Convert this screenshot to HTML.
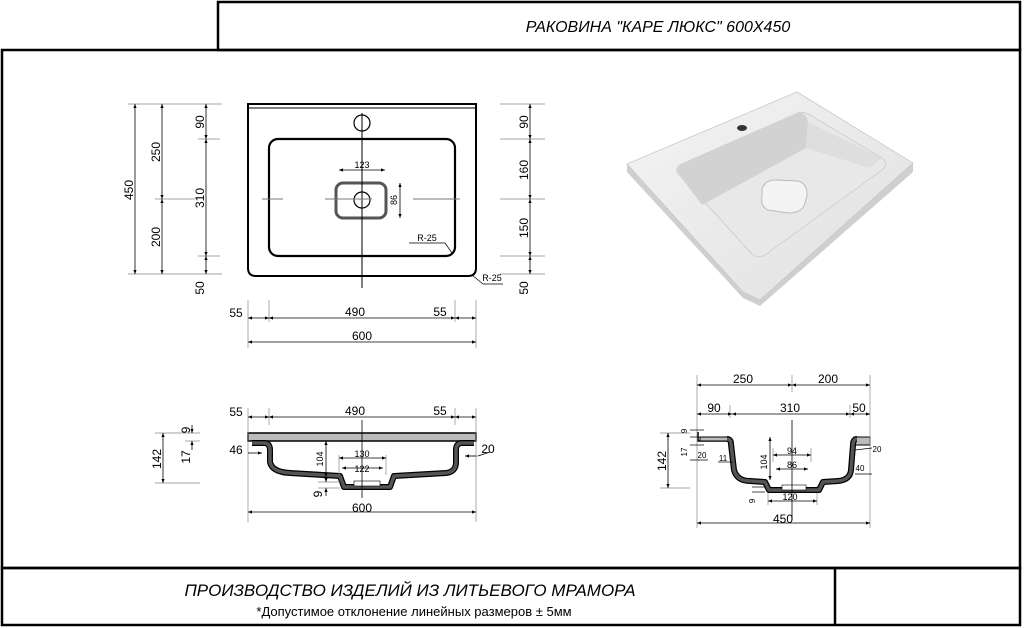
<!DOCTYPE html>
<html><head><meta charset="utf-8"><style>
html,body{margin:0;padding:0;background:#fff;}
svg{display:block;font-family:"Liberation Sans",Arial,sans-serif;}
</style></head><body>
<svg width="1024" height="628" viewBox="0 0 1024 628" xmlns="http://www.w3.org/2000/svg">
<defs>
<marker id="a" viewBox="0 0 10 10" refX="10" refY="5" markerWidth="7" markerHeight="5" orient="auto-start-reverse"><path d="M0,1 L10,5 L0,9z" fill="#000"/></marker>
<linearGradient id="g1" x1="0" y1="0" x2="1" y2="1"><stop offset="0" stop-color="#f4f4f4"/><stop offset="1" stop-color="#e0e0e0"/></linearGradient>
</defs>
<g fill="none" stroke="#000" stroke-width="2.5">
<rect x="218" y="2" width="802" height="48"/>
<rect x="2" y="50" width="1018" height="518"/>
<rect x="2" y="568" width="1018" height="57"/>
<line x1="835" y1="568" x2="835" y2="625"/>
</g>
<text x="658" y="32" font-size="16" font-style="italic" text-anchor="middle">РАКОВИНА "КАРЕ ЛЮКС" 600Х450</text>
<text x="410" y="596" font-size="17" font-style="italic" text-anchor="middle">ПРОИЗВОДСТВО ИЗДЕЛИЙ ИЗ ЛИТЬЕВОГО МРАМОРА</text>
<text x="414" y="616" font-size="13" text-anchor="middle">*Допустимое отклонение линейных размеров  ± 5мм</text>

<g fill="none" stroke="#000">
<path d="M248,104 H476 V268 Q476,276 468,276 H256 Q248,276 248,268 Z" stroke-width="2"/>
<line x1="248" y1="108" x2="476" y2="108" stroke-width="1"/>
<rect x="269" y="139" width="186" height="117" rx="9" stroke-width="2.2"/>
<circle cx="362" cy="123" r="8" stroke-width="1.2"/>
<rect x="336" y="183" width="50" height="35" rx="7" stroke="#555" stroke-width="3"/>
<circle cx="362" cy="200" r="8" stroke-width="1.2"/>
<line x1="362" y1="113" x2="362" y2="288" stroke-width="1"/>
<line x1="262" y1="199" x2="283" y2="199" stroke="#777" stroke-width="1"/>
<line x1="325" y1="199" x2="372" y2="199" stroke="#777" stroke-width="1"/>
<line x1="413" y1="199" x2="460" y2="199" stroke="#777" stroke-width="1"/>
</g>
<g stroke="#888" stroke-width="0.7" fill="none">
<line x1="128" y1="104" x2="222" y2="104"/><line x1="128" y1="274" x2="222" y2="274"/>
<line x1="155" y1="199" x2="195" y2="199"/><line x1="198" y1="139" x2="220" y2="139"/><line x1="198" y1="256" x2="220" y2="256"/>
<line x1="500" y1="104" x2="545" y2="104"/><line x1="500" y1="139" x2="545" y2="139"/><line x1="500" y1="199" x2="545" y2="199"/><line x1="500" y1="256" x2="545" y2="256"/><line x1="500" y1="274" x2="545" y2="274"/>
<line x1="248" y1="300" x2="248" y2="348"/><line x1="476" y1="300" x2="476" y2="348"/><line x1="269" y1="300" x2="269" y2="322"/><line x1="455" y1="300" x2="455" y2="322"/>
</g>
<g stroke="#000" stroke-width="0.8" marker-start="url(#a)" marker-end="url(#a)">
<line x1="135" y1="104" x2="135" y2="274"/>
<line x1="162" y1="104" x2="162" y2="199"/><line x1="162" y1="199" x2="162" y2="274"/>
<line x1="206" y1="104" x2="206" y2="139"/><line x1="206" y1="139" x2="206" y2="256"/><line x1="206" y1="256" x2="206" y2="274"/>
<line x1="530" y1="104" x2="530" y2="139"/><line x1="530" y1="139" x2="530" y2="199"/><line x1="530" y1="199" x2="530" y2="256"/><line x1="530" y1="256" x2="530" y2="274"/>
<line x1="248" y1="318" x2="269" y2="318"/><line x1="269" y1="318" x2="455" y2="318"/><line x1="455" y1="318" x2="476" y2="318"/>
<line x1="248" y1="342" x2="476" y2="342"/>
<line x1="339" y1="170" x2="385" y2="170"/><line x1="400" y1="183" x2="400" y2="218"/>
</g>
<g font-size="12" text-anchor="middle">
<text transform="translate(133,190) rotate(-90)">450</text>
<text transform="translate(160,152) rotate(-90)">250</text>
<text transform="translate(160,237) rotate(-90)">200</text>
<text transform="translate(204,122) rotate(-90)">90</text>
<text transform="translate(204,198) rotate(-90)">310</text>
<text transform="translate(204,288) rotate(-90)">50</text>
<text transform="translate(528,122) rotate(-90)">90</text>
<text transform="translate(528,170) rotate(-90)">160</text>
<text transform="translate(528,228) rotate(-90)">150</text>
<text transform="translate(528,288) rotate(-90)">50</text>
<text x="236" y="317">55</text><text x="355" y="316">490</text><text x="440" y="316">55</text><text x="362" y="340">600</text>
<text x="362" y="168" font-size="9">123</text>
<text transform="translate(397,200) rotate(-90)" font-size="9">86</text>
<text x="427" y="241" font-size="9">R-25</text>
<text x="492" y="281" font-size="9">R-25</text>
</g>
<polyline points="409,243 445,243 452,253" fill="none" stroke="#000" stroke-width="0.7"/>
<polyline points="503,284 483,284 472,275" fill="none" stroke="#000" stroke-width="0.7"/>

<!-- photo -->
<g>
<polygon points="627,164 797,92 913,163 913,172 760,306 743,298 627,172" fill="#cfcfcf"/>
<polygon points="627,164 797,92 913,163 760,300 743,292" fill="url(#g1)" stroke="#c8c8c8" stroke-width="0.8"/>
<path d="M677,172 Q676,166 684,163 L798,113 Q804,111 810,115 L882,158 Q889,164 882,170 L765,255 Q758,259 752,254 Z" fill="#e8e8e8" stroke="#d0d0d0"/>
<path d="M677,172 Q676,166 684,163 L798,113 Q806,112 808,122 L806,148 L702,205 Z" fill="#d2d2d2"/>
<path d="M806,148 L808,122 L882,158 L870,168 Z" fill="#dedede"/>
<path d="M762,190 Q764,180 776,180 L798,181 Q808,184 807,196 L804,206 Q800,213 788,213 L768,210 Q760,206 762,196Z" fill="#f4f4f4" stroke="#bbb"/>
<ellipse cx="742" cy="128" rx="5" ry="3" fill="#333"/>
</g>

<!-- section left -->
<rect x="248" y="433" width="228" height="8" fill="#bbb" stroke="#000" stroke-width="1.5"/>
<path d="M252,443 H264 Q270,443 270,450 V462 Q272,472 290,473 L340,476 L344,487 H390 L394,476 L446,473 Q456,472 456,462 V450 Q456,443 462,443 H474" fill="none" stroke="#000" stroke-width="6" stroke-linejoin="round"/>
<path d="M252,443 H264 Q270,443 270,450 V462 Q272,472 290,473 L340,476 L344,487 H390 L394,476 L446,473 Q456,472 456,462 V450 Q456,443 462,443 H474" fill="none" stroke="#555" stroke-width="3.5" stroke-linejoin="round"/>
<rect x="354" y="481" width="26" height="5" fill="#fff" stroke="#000" stroke-width="0.6"/>
<g stroke="#888" stroke-width="0.7">
<line x1="248" y1="408" x2="248" y2="522"/><line x1="269" y1="408" x2="269" y2="425"/><line x1="455" y1="408" x2="455" y2="425"/><line x1="476" y1="408" x2="476" y2="522"/>
<line x1="155" y1="433" x2="200" y2="433"/><line x1="155" y1="483" x2="200" y2="483"/>
<line x1="185" y1="441" x2="200" y2="441"/>
<line x1="339" y1="455" x2="339" y2="475"/><line x1="386" y1="455" x2="386" y2="475"/>
<line x1="465" y1="456" x2="478" y2="456"/><line x1="318" y1="482" x2="340" y2="482"/><line x1="318" y1="488" x2="340" y2="488"/>
</g>
<line x1="362" y1="420" x2="362" y2="498" stroke="#000" stroke-width="0.8"/>
<g stroke="#000" stroke-width="0.8" marker-start="url(#a)" marker-end="url(#a)">
<line x1="248" y1="417" x2="269" y2="417"/><line x1="269" y1="417" x2="455" y2="417"/><line x1="455" y1="417" x2="476" y2="417"/>
<line x1="248" y1="512" x2="476" y2="512"/>
<line x1="163" y1="433" x2="163" y2="483"/>
<line x1="326" y1="441" x2="326" y2="477"/>
<line x1="339" y1="458" x2="386" y2="458"/><line x1="342" y1="468" x2="383" y2="468"/>
</g>
<g stroke="#000" stroke-width="0.8">
<line x1="248" y1="453" x2="262" y2="453" marker-end="url(#a)"/>
<line x1="476" y1="456" x2="465" y2="456" marker-end="url(#a)"/><line x1="490" y1="452" x2="478" y2="456"/>
<line x1="192" y1="425" x2="192" y2="433" marker-end="url(#a)"/><line x1="192" y1="450" x2="192" y2="441" marker-end="url(#a)"/>
<line x1="326" y1="474" x2="326" y2="482" marker-end="url(#a)"/><line x1="326" y1="496" x2="326" y2="488" marker-end="url(#a)"/>
</g>
<g font-size="12" text-anchor="middle">
<text x="236" y="416">55</text><text x="355" y="415">490</text><text x="440" y="415">55</text><text x="362" y="512">600</text>
<text x="236" y="454">46</text><text x="488" y="453">20</text>
<text transform="translate(161,459) rotate(-90)">142</text>
<text transform="translate(190,430) rotate(-90)">9</text>
<text transform="translate(190,457) rotate(-90)">17</text>
<text transform="translate(322,494) rotate(-90)">9</text>
<text x="362" y="457" font-size="9">130</text><text x="362" y="472" font-size="9">122</text>
<text transform="translate(323,459) rotate(-90)" font-size="9">104</text>
</g>

<!-- section right -->
<path d="M698,432 V441 H727" fill="none" stroke="#000" stroke-width="1.5"/>
<rect x="700" y="437" width="28" height="4" fill="#bbb" stroke="#000" stroke-width="1"/>
<rect x="854" y="437" width="16" height="8" fill="#bbb" stroke="#000" stroke-width="1"/>
<path d="M727,439 Q731,439 731,444 L734,470 Q737,481 750,481 L765,482 L769,490 H819 L823,482 L838,481 Q850,480 851,470 L853,445 Q853,439 857,439" fill="none" stroke="#000" stroke-width="6" stroke-linejoin="round"/>
<path d="M727,439 Q731,439 731,444 L734,470 Q737,481 750,481 L765,482 L769,490 H819 L823,482 L838,481 Q850,480 851,470 L853,445 Q853,439 857,439" fill="none" stroke="#555" stroke-width="3.5" stroke-linejoin="round"/>
<rect x="782" y="485" width="24" height="5" fill="#fff" stroke="#000" stroke-width="0.6"/>
<g stroke="#888" stroke-width="0.7">
<line x1="697" y1="375" x2="697" y2="528"/><line x1="870" y1="375" x2="870" y2="528"/><line x1="792" y1="375" x2="792" y2="392"/>
<line x1="730" y1="405" x2="730" y2="418"/><line x1="850" y1="405" x2="850" y2="418"/>
<line x1="660" y1="433" x2="690" y2="433"/><line x1="660" y1="488" x2="690" y2="488"/>
<line x1="773" y1="448" x2="773" y2="462"/><line x1="811" y1="448" x2="811" y2="462"/>
<line x1="768" y1="493" x2="768" y2="505"/><line x1="817" y1="493" x2="817" y2="505"/>
</g>
<line x1="792" y1="420" x2="792" y2="520" stroke="#000" stroke-width="0.8"/>
<g stroke="#000" stroke-width="0.8" marker-start="url(#a)" marker-end="url(#a)">
<line x1="697" y1="385" x2="792" y2="385"/><line x1="792" y1="385" x2="870" y2="385"/>
<line x1="697" y1="414" x2="732" y2="414"/><line x1="732" y1="414" x2="850" y2="414"/><line x1="850" y1="414" x2="870" y2="414"/>
<line x1="697" y1="523" x2="870" y2="523"/>
<line x1="668" y1="433" x2="668" y2="488"/>
<line x1="770" y1="437" x2="770" y2="480"/>
<line x1="773" y1="455" x2="811" y2="455"/><line x1="776" y1="469" x2="808" y2="469"/>
<line x1="768" y1="501" x2="817" y2="501"/>
</g>
<g stroke="#000" stroke-width="0.7">
<line x1="690" y1="460" x2="708" y2="460"/><line x1="718" y1="462" x2="733" y2="462"/>
<line x1="855" y1="450" x2="872" y2="448"/><line x1="855" y1="474" x2="872" y2="474"/>
<line x1="690" y1="430" x2="704" y2="430"/><line x1="690" y1="437" x2="704" y2="437"/><line x1="690" y1="445" x2="704" y2="445"/>
<line x1="752" y1="487" x2="765" y2="487"/><line x1="752" y1="492" x2="765" y2="492"/>
</g>
<g font-size="12" text-anchor="middle">
<text x="743" y="383">250</text><text x="828" y="383">200</text>
<text x="714" y="412">90</text><text x="790" y="412">310</text><text x="859" y="412">50</text>
<text x="783" y="523">450</text>
<text transform="translate(666,461) rotate(-90)">142</text>
<text x="790" y="500" font-size="9">120</text>
<text x="792" y="454" font-size="9">94</text><text x="792" y="468" font-size="9">86</text>
<text transform="translate(767,462) rotate(-90)" font-size="9">104</text>
<text x="702" y="458" font-size="8">20</text><text x="723" y="461" font-size="8">11</text>
<text x="877" y="452" font-size="8">20</text><text x="860" y="471" font-size="8">40</text>
<text transform="translate(687,431) rotate(-90)" font-size="8">9</text>
<text transform="translate(687,452) rotate(-90)" font-size="8">17</text>
<text transform="translate(755,501) rotate(-90)" font-size="8">9</text>
</g>
</svg>
</body></html>
